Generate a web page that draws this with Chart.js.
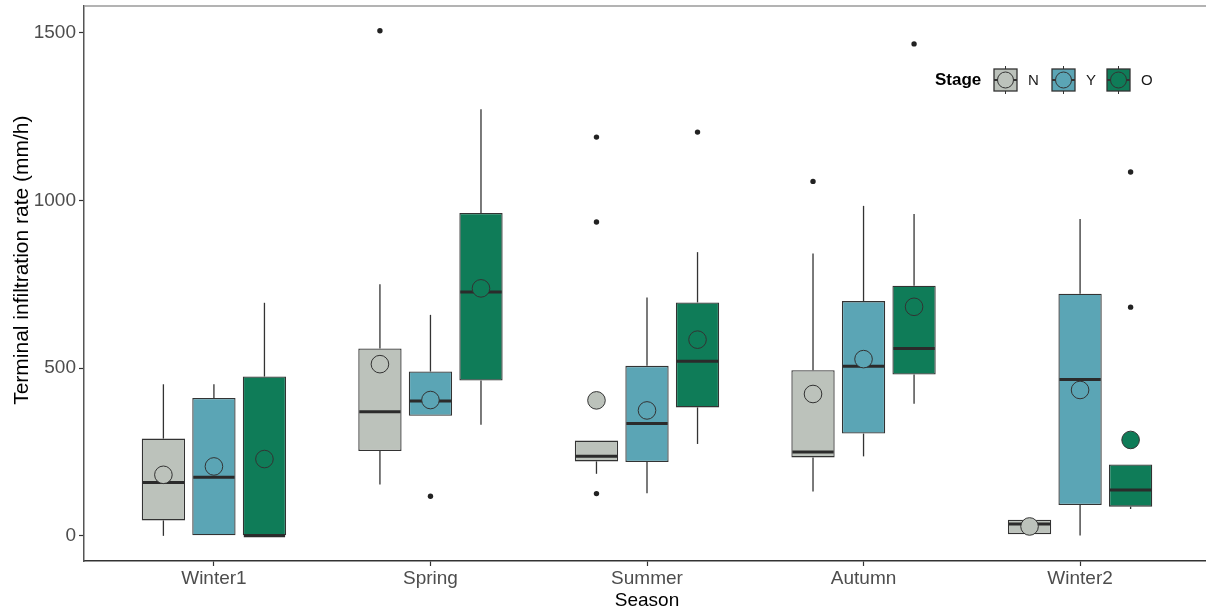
<!DOCTYPE html>
<html>
<head>
<meta charset="utf-8">
<script src="https://cdn.jsdelivr.net/npm/chart.js@4.4.0/dist/chart.umd.min.js"></script>
<style>
  html, body { margin: 0; padding: 0; background: #fff; overflow: hidden; }
  #wrap { width: 1212px; height: 613px; }
</style>
</head>
<body>
<div id="wrap"><canvas id="chart" width="1212" height="613"></canvas></div>
<script>
var seasons = ['Winter1', 'Spring', 'Summer', 'Autumn', 'Winter2'];
var yTicks = [0, 500, 1000, 1500];

// Stage N
var lowN  = [0, 153, 185, 132, 5];
var q1N   = [46, 253, 222, 234, 5];
var medN  = [159, 370, 237, 250, 35];
var q3N   = [290, 559, 284, 494, 48];
var highN = [452, 750, 284, 842, 48];
var meanN = [182, 512, 404, 423, 28];
var outN  = [[], [1506], [1189, 936, 126], [1057], []];

// Stage Y
var lowY  = [0, 358, 127, 237, 1];
var q1Y   = [0, 358, 220, 305, 92];
var medY  = [175, 402, 335, 506, 466];
var q3Y   = [411, 490, 507, 700, 722];
var highY = [452, 659, 711, 984, 945];
var meanY = [207, 405, 374, 527, 435];
var outY  = [[], [118], [], [], []];

// Stage O
var lowO  = [0, 331, 274, 394, 80];
var q1O   = [0, 463, 383, 481, 87];
var medO  = [0, 727, 521, 559, 137];
var q3O   = [475, 963, 696, 746, 213];
var highO = [695, 1272, 846, 960, 213];
var meanO = [229, 738, 585, 683, 286];
var outO  = [[], [], [1204], [1467], [1085, 682]];

var stageNames = ['N', 'Y', 'O'];
var stageColors = ['#bcc2bb', '#5ba5b5', '#0f7c58'];

var stages = [
  {low: lowN, q1: q1N, med: medN, q3: q3N, high: highN, mean: meanN, out: outN},
  {low: lowY, q1: q1Y, med: medY, q3: q3Y, high: highY, mean: meanY, out: outY},
  {low: lowO, q1: q1O, med: medO, q3: q3O, high: highO, mean: meanO, out: outO}
];

var FONT = "'Liberation Sans', Arial, sans-serif";

function line(ctx, x1, y1, x2, y2) {
  ctx.beginPath();
  ctx.moveTo(x1, y1);
  ctx.lineTo(x2, y2);
  ctx.stroke();
}

var boxExtras = {
  id: 'boxExtras',
  afterDatasetsDraw: function(chart) {
    var ctx = chart.ctx;
    var ys = chart.scales.y;
    var area = chart.chartArea;
    ctx.save();
    ctx.beginPath();
    ctx.rect(area.left, area.top, area.right - area.left, area.bottom - area.top);
    ctx.clip();

    stages.forEach(function(st, d) {
      var meta = chart.getDatasetMeta(d);
      meta.data.forEach(function(bar, i) {
        var x = bar.x, half = bar.width / 2;
        ctx.strokeStyle = '#333';
        ctx.lineWidth = 1.3;
        if (st.high[i] > st.q3[i]) line(ctx, x, ys.getPixelForValue(st.high[i]), x, ys.getPixelForValue(st.q3[i]));
        if (st.low[i] < st.q1[i]) line(ctx, x, ys.getPixelForValue(st.q1[i]), x, ys.getPixelForValue(st.low[i]));
        ctx.strokeStyle = '#2b2b2b';
        ctx.lineWidth = 3;
        var ym = ys.getPixelForValue(st.med[i]);
        line(ctx, x - half + 1, ym, x + half - 1, ym);
        ctx.fillStyle = '#222';
        st.out[i].forEach(function(v) {
          ctx.beginPath();
          ctx.arc(x, ys.getPixelForValue(v), 2.7, 0, Math.PI * 2);
          ctx.fill();
        });
      });
    });

    // means on top
    stages.forEach(function(st, d) {
      var meta = chart.getDatasetMeta(d);
      meta.data.forEach(function(bar, i) {
        ctx.beginPath();
        ctx.arc(bar.x, ys.getPixelForValue(st.mean[i]), 8.8, 0, Math.PI * 2);
        ctx.fillStyle = stageColors[d];
        ctx.fill();
        ctx.strokeStyle = '#333';
        ctx.lineWidth = 1;
        ctx.stroke();
      });
    });
    ctx.restore();
  },
  afterDraw: function(chart) {
    var ctx = chart.ctx;
    var area = chart.chartArea;
    ctx.save();
    // top panel border
    ctx.strokeStyle = '#9a9a9a';
    ctx.lineWidth = 1.5;
    line(ctx, area.left, area.top, area.right, area.top);

    // legend
    var ly = 80;
    ctx.fillStyle = '#000';
    ctx.font = 'bold 17px ' + FONT;
    ctx.textBaseline = 'middle';
    ctx.textAlign = 'left';
    ctx.fillText('Stage', 935, ly);
    var keyX = [994, 1052, 1107];
    stageNames.forEach(function(name, d) {
      var kx = keyX[d], kw = 23, top = ly - 11, h = 22;
      var cx = kx + kw / 2;
      ctx.strokeStyle = '#333';
      ctx.lineWidth = 1;
      line(ctx, cx, top - 3, cx, top);
      line(ctx, cx, top + h, cx, top + h + 3);
      ctx.fillStyle = stageColors[d];
      ctx.fillRect(kx, top, kw, h);
      ctx.lineWidth = 1.3;
      ctx.strokeRect(kx, top, kw, h);
      ctx.lineWidth = 2;
      line(ctx, kx, ly, kx + kw, ly);
      ctx.beginPath();
      ctx.arc(cx, ly, 8, 0, Math.PI * 2);
      ctx.fillStyle = stageColors[d];
      ctx.fill();
      ctx.lineWidth = 1;
      ctx.stroke();
      ctx.fillStyle = '#1a1a1a';
      ctx.font = '15px ' + FONT;
      ctx.fillText(name, kx + kw + 11, ly + 1);
    });
    ctx.restore();
  }
};

var datasets = stages.map(function(st, d) {
  return {
    label: stageNames[d],
    data: seasons.map(function(s, i) { return {x: i + 1, y: [st.q1[i], st.q3[i]]}; }),
    backgroundColor: stageColors[d],
    borderColor: '#333',
    borderWidth: 1.3,
    borderSkipped: false,
    categoryPercentage: 0.70,
    barPercentage: 0.857
  };
});

new Chart(document.getElementById('chart'), {
  type: 'bar',
  data: { datasets: datasets },
  plugins: [boxExtras],
  options: {
    responsive: false,
    animation: false,
    layout: { padding: { top: 6, right: 2, left: 0, bottom: 0 } },
    plugins: { legend: { display: false }, tooltip: { enabled: false } },
    scales: {
      x: {
        type: 'linear',
        min: 0.4,
        max: 5.6,
        offset: false,
        afterBuildTicks: function(scale) {
          scale.ticks = seasons.map(function(s, i) { return {value: i + 1}; });
        },
        afterFit: function(scale) { scale.height = 52; },
        ticks: {
          autoSkip: false,
          maxRotation: 0,
          padding: 1,
          color: '#4d4d4d',
          font: { family: FONT, size: 19 },
          callback: function(v) { return seasons[v - 1]; }
        },
        grid: { offset: false, drawOnChartArea: false, tickLength: 5, tickColor: '#333', tickWidth: 1.2 },
        border: { display: true, color: '#333', width: 1.5 },
        title: { display: true, text: 'Season', color: '#000', font: { family: FONT, size: 19 }, padding: { top: 0, bottom: 1 } }
      },
      y: {
        min: -75,
        max: 1580,
        afterBuildTicks: function(scale) {
          scale.ticks = yTicks.map(function(v) { return {value: v}; });
        },
        afterFit: function(scale) {
          scale.width = 84;
          scale.paddingTop = 0;
          scale.paddingBottom = 0;
        },
        ticks: {
          padding: 3,
          color: '#4d4d4d',
          font: { family: FONT, size: 19 },
          callback: function(v) { return String(v); }
        },
        grid: { drawOnChartArea: false, tickLength: 5, tickColor: '#333', tickWidth: 1.2 },
        border: { display: true, color: '#555', width: 1.5 },
        title: { display: true, text: '        Terminal infiltration rate (mm/h)', color: '#000', font: { family: FONT, size: 21 }, padding: { top: 10, bottom: 0 } }
      }
    }
  }
});
</script>
</body>
</html>
